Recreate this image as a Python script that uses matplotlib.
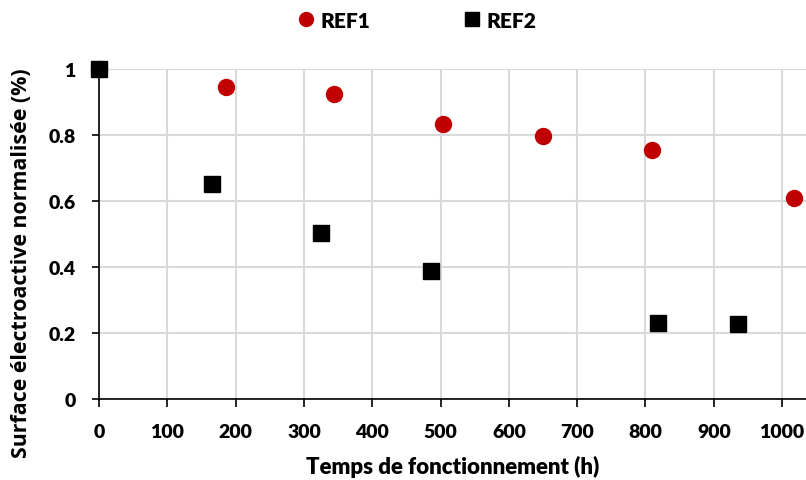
import matplotlib
matplotlib.use("Agg")
import matplotlib.pyplot as plt
from matplotlib.lines import Line2D

ref1_x = [0, 186, 344, 504, 650, 810, 1018]
ref1_y = [1.0, 0.945, 0.924, 0.833, 0.797, 0.755, 0.609]
ref2_x = [0, 165, 325, 486, 818, 936]
ref2_y = [1.0, 0.652, 0.503, 0.388, 0.23, 0.227]
x_ticks = [0, 100, 200, 300, 400, 500, 600, 700, 800, 900, 1000]
y_ticks = [0, 0.2, 0.4, 0.6, 0.8, 1.0]
y_ticklabels = ["0", "0.2", "0.4", "0.6", "0.8", "1"]

narrow = ["Lato", "DejaVu Sans"]
W = "heavy"

fig = plt.figure(figsize=(8.06, 4.81), dpi=100)
ax = fig.add_axes([99/806, 1-400/481, 1-99/806, (400-70)/481])
ax.set_xlim(0, 1035)
ax.set_ylim(0, 1.0)

ax.grid(True, color="#d9d9d9", linewidth=1.5, zorder=0)
ax.set_axisbelow(True)

ax.plot(ref1_x, ref1_y, linestyle="none", marker="o", markersize=11.5,
        color="#c00000", zorder=3, clip_on=False)
ax.plot(ref2_x, ref2_y, linestyle="none", marker="s", markersize=11,
        color="black", zorder=4, clip_on=False)

for s in ["top", "right"]:
    ax.spines[s].set_visible(False)
ax.spines["left"].set_color("black")
ax.spines["bottom"].set_color("black")
ax.spines["left"].set_linewidth(1.2)
ax.spines["bottom"].set_linewidth(1.2)

ax.set_xticks(x_ticks)
ax.set_yticks(y_ticks)
ax.set_yticklabels(y_ticklabels)
ax.tick_params(axis="x", direction="out", length=6, width=1.2, pad=11)
ax.tick_params(axis="y", direction="out", length=5, width=1.2, pad=12)
for lab in ax.get_xticklabels() + ax.get_yticklabels():
    lab.set_fontfamily(narrow)
    lab.set_fontweight(W)
    lab.set_fontsize(14)

ax.set_xlabel("Temps de fonctionnement (h)", fontfamily=narrow,
              fontweight=W, fontsize=16, labelpad=11)
fig.text(22/806, 1-263/481, "Surface électroactive normalisée (%)",
         rotation=90, ha="center", va="center",
         fontfamily=["Open Sans", "DejaVu Sans"], fontweight="bold", fontsize=15.4)

handles = [
    Line2D([], [], linestyle="none", marker="o", markersize=10, color="#c00000"),
    Line2D([], [], linestyle="none", marker="s", markersize=9.5, color="black"),
]
fig.legend(handles, ["REF1", "REF2"], loc="center", bbox_to_anchor=(416/806, 1-21/481),
           ncol=2, frameon=False, handlelength=1.0, handletextpad=0.2, columnspacing=4.4,
           prop={"family": narrow, "weight": W, "size": 15})

fig.savefig("out.png", dpi=100)
